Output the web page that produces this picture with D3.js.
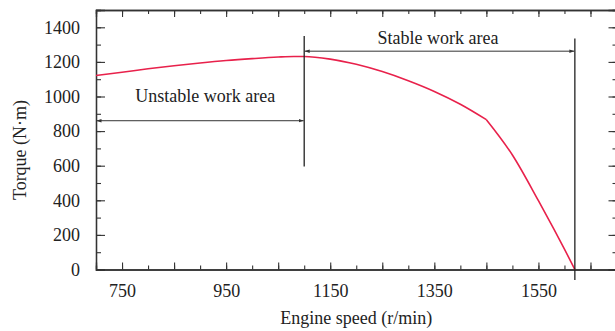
<!DOCTYPE html>
<html>
<head>
<meta charset="utf-8">
<script src="https://cdn.jsdelivr.net/npm/d3@7"></script>
<style>
  body { margin: 0; background: #fff; }
  svg text { font-family: "Liberation Serif", "Times New Roman", serif; fill: #222; }
</style>
</head>
<body>
<svg id="chart" width="615" height="331"></svg>
<script>
// engine speed (r/min) and torque (N·m)
const speed  = [700, 750, 800, 850, 900, 950, 1000, 1050, 1080, 1100, 1150, 1200, 1250, 1300, 1350, 1400, 1450, 1500, 1550, 1580, 1600, 1620];
const torque = [1121, 1140, 1160, 1178, 1194, 1208, 1219, 1228, 1231, 1231, 1216, 1186, 1144, 1091, 1029, 955, 866, 662, 398, 232, 118, 0];
const kinkSpeed = 1450; // the curve changes slope sharply here

const xLabels = [750, 950, 1150, 1350, 1550];
const yLabels = [0, 200, 400, 600, 800, 1000, 1200, 1400];

// work-area boundaries
const boundary = [1100, 1620];
const areaNames = ["Unstable work area", "Stable work area"];

const svg = d3.select("#chart");
const plotL = 96, plotT = 10, plotR = 616.5, plotB = 269.5;

const x = d3.scaleLinear().domain([700, 1700]).range([plotL, plotR]);
const y = d3.scaleLinear().domain([0, 1500]).range([plotB, plotT]);

// arrow heads
const defs = svg.append("defs");
["s", "e"].forEach(k => {
  defs.append("marker")
    .attr("id", "arr-" + k)
    .attr("viewBox", "0 0 10 10")
    .attr("refX", 10).attr("refY", 5)
    .attr("markerWidth", 5).attr("markerHeight", 5)
    .attr("markerUnits", "userSpaceOnUse")
    .attr("orient", "auto-start-reverse")
    .append("path")
    .attr("d", "M0,1.5 L10,5 L0,8.5 Z")
    .attr("fill", "#333");
});

const step = (a, b, s) => d3.range(a, b + 0.1, s);

function styleAxis(g) {
  g.select(".domain").attr("stroke", "#333").attr("stroke-width", 1.3);
  g.selectAll(".tick line").attr("stroke", "#333").attr("stroke-width", 1.1);
  g.selectAll("text").style("font-size", "18px").attr("fill", "#222");
}

// bottom axis: minor and major ticks
svg.append("g").attr("transform", `translate(0,${plotB})`)
  .call(d3.axisBottom(x).tickValues(step(700, 1700, 50)).tickSize(-4).tickFormat(""))
  .call(styleAxis);
svg.append("g").attr("transform", `translate(0,${plotB})`)
  .call(d3.axisBottom(x).tickValues(step(750, 1650, 100)).tickSize(-7).tickPadding(14.5)
    .tickFormat(d => xLabels.includes(d) ? d : ""))
  .call(styleAxis);

// top border
svg.append("g").attr("transform", `translate(0,${plotT})`)
  .call(d3.axisTop(x).tickValues(step(700, 1700, 50)).tickSize(-4).tickFormat(""))
  .call(styleAxis);
svg.append("g").attr("transform", `translate(0,${plotT})`)
  .call(d3.axisTop(x).tickValues(step(750, 1650, 100)).tickSize(-7).tickFormat(""))
  .call(styleAxis);

// left axis
svg.append("g").attr("transform", `translate(${plotL},0)`)
  .call(d3.axisLeft(y).tickValues(step(0, 1500, 100)).tickSize(-5).tickFormat(""))
  .call(styleAxis);
svg.append("g").attr("transform", `translate(${plotL},0)`)
  .call(d3.axisLeft(y).tickValues(yLabels).tickSize(-9).tickPadding(16).tickFormat(d3.format("d")))
  .call(styleAxis);

// right border
svg.append("g").attr("transform", `translate(${plotR},0)`)
  .call(d3.axisRight(y).tickValues(step(0, 1500, 100)).tickSize(-4).tickFormat(""))
  .call(styleAxis);
svg.append("g").attr("transform", `translate(${plotR},0)`)
  .call(d3.axisRight(y).tickValues(yLabels).tickSize(-8).tickFormat(""))
  .call(styleAxis);

// axis titles
svg.append("text")
  .attr("x", (plotL + plotR) / 2).attr("y", 324)
  .attr("text-anchor", "middle").style("font-size", "18px")
  .text("Engine speed (r/min)");
svg.append("text")
  .attr("transform", "translate(26,150) rotate(-90)")
  .attr("text-anchor", "middle").style("font-size", "18px")
  .text("Torque (N·m)");

// torque curve, drawn in two smooth pieces that meet at the kink
const pts = d3.zip(speed, torque);
const pieces = [pts.filter(d => d[0] <= kinkSpeed), pts.filter(d => d[0] >= kinkSpeed)];
const line = d3.line().x(d => x(d[0])).y(d => y(d[1])).curve(d3.curveMonotoneX);
svg.append("path")
  .attr("fill", "none")
  .attr("stroke", "#e8214b")
  .attr("stroke-width", 1.6)
  .attr("stroke-linejoin", "round")
  .attr("d", pieces.map(p => line(p)).join(""));

// boundary lines
svg.append("line")
  .attr("x1", x(boundary[0])).attr("x2", x(boundary[0]))
  .attr("y1", y(1350)).attr("y2", y(595))
  .attr("stroke", "#222").attr("stroke-width", 1.3);
svg.append("line")
  .attr("x1", x(boundary[1])).attr("x2", x(boundary[1]))
  .attr("y1", y(1335)).attr("y2", y(-60))
  .attr("stroke", "#222").attr("stroke-width", 1.3);

// double arrows
const arrows = [
  { from: 700, to: boundary[0], level: 860 },
  { from: boundary[0], to: boundary[1], level: 1262 }
];
svg.selectAll(".span").data(arrows).enter().append("line")
  .attr("x1", d => x(d.from) + 0.5).attr("x2", d => x(d.to) - 0.5)
  .attr("y1", d => y(d.level)).attr("y2", d => y(d.level))
  .attr("stroke", "#333").attr("stroke-width", 1)
  .attr("marker-start", "url(#arr-s)")
  .attr("marker-end", "url(#arr-e)");

// area labels
const labelPos = [{ at: 910, level: 970 }, { at: 1357, level: 1306 }];
svg.selectAll(".area-label").data(labelPos).enter().append("text")
  .attr("x", d => x(d.at)).attr("y", d => y(d.level))
  .attr("text-anchor", "middle").style("font-size", "18px")
  .text((d, i) => areaNames[i]);
</script>
</body>
</html>
